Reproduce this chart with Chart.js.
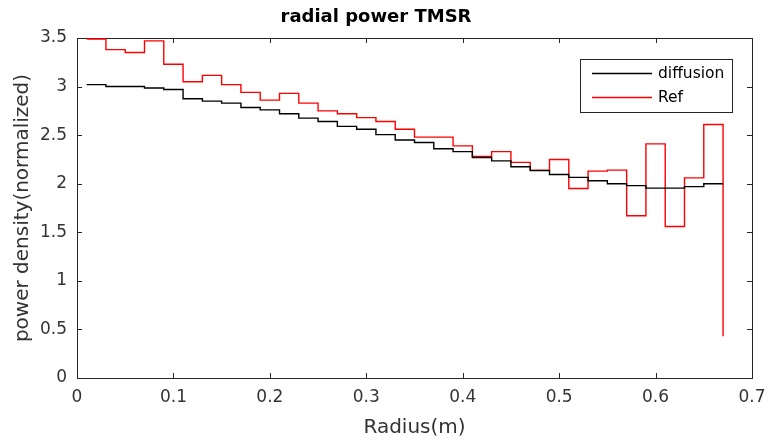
<!DOCTYPE html>
<html>
<head>
<meta charset="utf-8">
<script src="https://cdn.jsdelivr.net/npm/chart.js@4/dist/chart.umd.min.js"></script>
<style>
  html, body { margin: 0; padding: 0; background: #fff; }
  #wrap { width: 768px; height: 443px; }
</style>
</head>
<body>
<div id="wrap"><canvas id="c" width="768" height="443"></canvas></div>
<script>
// ---- data ----
const radius = [0.01, 0.03, 0.05, 0.07, 0.09, 0.11, 0.13, 0.15, 0.17, 0.19,
                0.21, 0.23, 0.25, 0.27, 0.29, 0.31, 0.33, 0.35, 0.37, 0.39,
                0.41, 0.43, 0.45, 0.47, 0.49, 0.51, 0.53, 0.55, 0.57, 0.59,
                0.61, 0.63, 0.65, 0.67];
const diffusion = [3.02, 3.00, 3.00, 2.985, 2.97, 2.875, 2.85, 2.83, 2.785, 2.76,
                   2.72, 2.675, 2.64, 2.59, 2.56, 2.505, 2.45, 2.425, 2.36, 2.33,
                   2.27, 2.235, 2.175, 2.135, 2.095, 2.065, 2.03, 2.00, 1.98, 1.955,
                   1.955, 1.97, 2.00, 2.00];
const refValues = [3.49, 3.38, 3.35, 3.47, 3.23, 3.05, 3.115, 3.02, 2.94, 2.86,
                   2.93, 2.83, 2.75, 2.72, 2.68, 2.64, 2.56, 2.48, 2.48, 2.39,
                   2.28, 2.33, 2.22, 2.14, 2.25, 1.95, 2.13, 2.14, 1.67, 2.41,
                   1.56, 2.06, 2.61, 0.43];
const seriesNames = ["diffusion", "Ref"];
const xTicks = [0, 0.1, 0.2, 0.3, 0.4, 0.5, 0.6, 0.7];
const yTicks = [0, 0.5, 1, 1.5, 2, 2.5, 3, 3.5];

const FONT = "'DejaVu Sans', 'Liberation Sans', Arial, sans-serif";
const AXIS_COLOR = '#262626';

const toPoints = (xs, ys) => xs.map((x, i) => ({ x: x, y: ys[i] }));

// Box + inward ticks (before data) and legend (after data), MATLAB style
const matlabBox = {
  id: 'matlabBox',
  beforeDatasetsDraw(chart) {
    const { ctx, chartArea: a, scales } = chart;
    const xs = scales.x, ys = scales.y;
    const L = 5;
    ctx.save();
    ctx.strokeStyle = AXIS_COLOR;
    ctx.lineWidth = 1;
    ctx.beginPath();
    xTicks.forEach(v => {
      const px = Math.round(xs.getPixelForValue(v)) + 0.5;
      ctx.moveTo(px, a.bottom); ctx.lineTo(px, a.bottom - L);
      ctx.moveTo(px, a.top); ctx.lineTo(px, a.top + L);
    });
    yTicks.forEach(v => {
      const py = Math.round(ys.getPixelForValue(v)) + 0.5;
      ctx.moveTo(a.left, py); ctx.lineTo(a.left + L, py);
      ctx.moveTo(a.right, py); ctx.lineTo(a.right - L, py);
    });
    ctx.stroke();
    ctx.strokeRect(Math.round(a.left) + 0.5, Math.round(a.top) + 0.5,
                   Math.round(a.right - a.left), Math.round(a.bottom - a.top));
    ctx.restore();
  },
  afterDatasetsDraw(chart) {
    const { ctx } = chart;
    ctx.save();
    const bx = 580.5, by = 59.5, bw = 152, bh = 53;
    ctx.fillStyle = '#fff';
    ctx.fillRect(bx, by, bw, bh);
    ctx.strokeStyle = AXIS_COLOR;
    ctx.lineWidth = 1;
    ctx.strokeRect(bx, by, bw, bh);
    const rows = [73.5, 97.5];
    chart.data.datasets.forEach((ds, i) => {
      ctx.strokeStyle = ds.borderColor;
      ctx.lineWidth = 1.3;
      ctx.beginPath();
      ctx.moveTo(592, rows[i]); ctx.lineTo(652, rows[i]);
      ctx.stroke();
      ctx.fillStyle = '#000';
      ctx.font = '15.5px ' + FONT;
      ctx.textBaseline = 'middle';
      ctx.textAlign = 'left';
      ctx.fillText(ds.label, 658, rows[i]);
    });
    ctx.restore();
  }
};

new Chart(document.getElementById('c'), {
  type: 'line',
  data: {
    datasets: [
      {
        label: seriesNames[0],
        data: toPoints(radius, diffusion),
        borderColor: '#000000',
        borderWidth: 1.4,
        pointRadius: 0,
        stepped: 'before',
        fill: false
      },
      {
        label: seriesNames[1],
        data: toPoints(radius, refValues),
        borderColor: '#ff0000',
        borderWidth: 1.4,
        pointRadius: 0,
        stepped: 'before',
        fill: false
      }
    ]
  },
  options: {
    responsive: false,
    animation: false,
    devicePixelRatio: 1,
    layout: { padding: { left: 0, right: 16, top: 0, bottom: 0 } },
    plugins: {
      legend: { display: false },
      tooltip: { enabled: false },
      title: {
        display: true,
        text: 'radial power TMSR',
        color: '#000',
        font: { family: FONT, size: 18, weight: 'bold', lineHeight: 1.2 },
        padding: { top: 7, bottom: 9.4 }
      }
    },
    scales: {
      x: {
        type: 'linear',
        min: 0, max: 0.7,
        afterBuildTicks: s => { s.ticks = xTicks.map(v => ({ value: v })); },
        afterFit: s => { s.height = 65; s.paddingLeft = 0; s.paddingRight = 0; },
        grid: { display: false, drawTicks: false },
        border: { display: false },
        ticks: {
          padding: 9,
          color: '#333',
          font: { family: FONT, size: 17 },
          maxRotation: 0,
          callback: v => String(+v.toFixed(2))
        },
        title: {
          display: true,
          text: 'Radius(m)',
          color: '#333',
          font: { family: FONT, size: 20 },
          padding: { top: 0, bottom: 3 }
        }
      },
      y: {
        type: 'linear',
        min: 0, max: 3.5,
        afterBuildTicks: s => { s.ticks = yTicks.map(v => ({ value: v })); },
        afterFit: s => { s.width = 77; s.paddingTop = 0; s.paddingBottom = 0; },
        grid: { display: false, drawTicks: false },
        border: { display: false },
        ticks: {
          padding: 10,
          color: '#333',
          font: { family: FONT, size: 17 },
          callback: v => String(+v.toFixed(2))
        },
        title: {
          display: true,
          text: 'power density(normalized)',
          color: '#333',
          font: { family: FONT, size: 20 },
          padding: { top: 11, bottom: 0 }
        }
      }
    }
  },
  plugins: [matlabBox]
});
</script>
</body>
</html>
